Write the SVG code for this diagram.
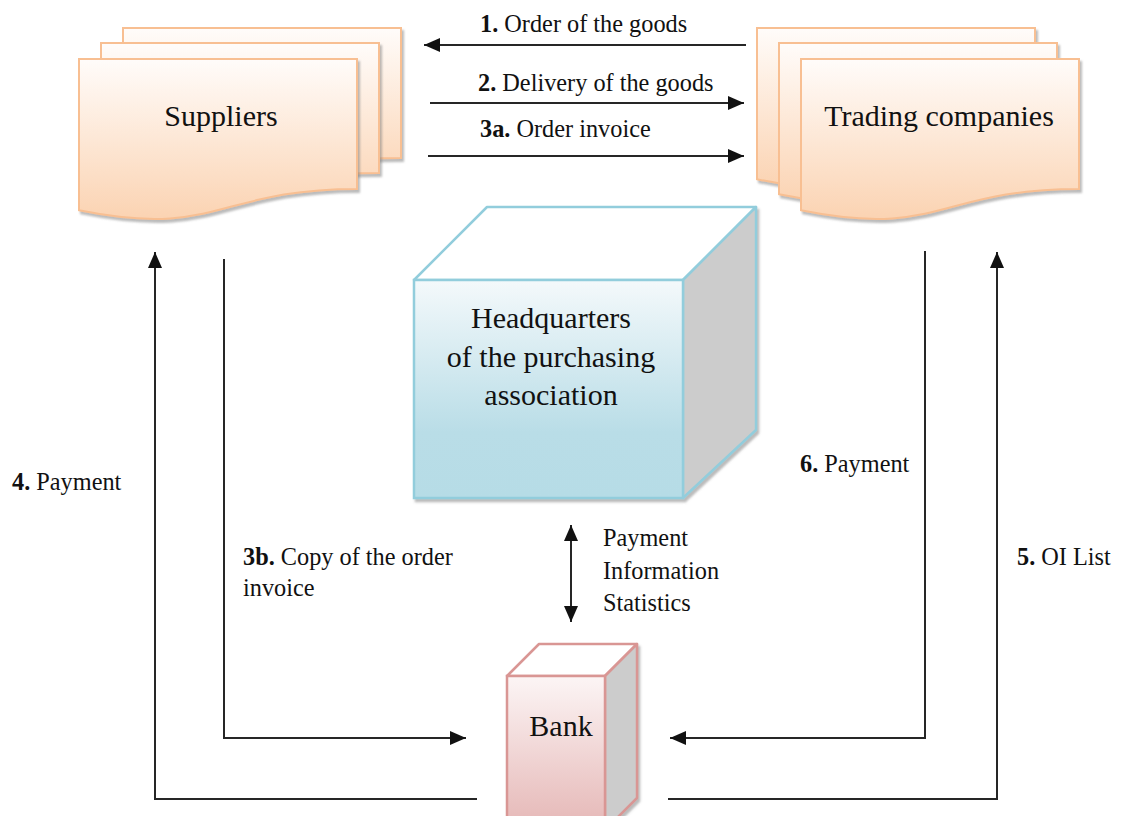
<svg xmlns="http://www.w3.org/2000/svg" width="1126" height="816" viewBox="0 0 1126 816">
<style>
.big{font-family:'Liberation Serif',serif;font-size:30px;fill:#111;}
.lbl{font-family:'Liberation Serif',serif;font-size:24.3px;fill:#111;}
.b{font-weight:bold;}
.doc{fill:url(#gDoc);stroke:#f8bf92;stroke-width:2;filter:url(#sh);}
.conn{fill:none;stroke:#262626;stroke-width:2;}
</style>
<defs>
<linearGradient id="gDoc" x1="0" y1="0" x2="0" y2="1">
<stop offset="0" stop-color="#fffcfa"/>
<stop offset="1" stop-color="#fbd3b2"/>
</linearGradient>
<linearGradient id="gHQ" x1="0" y1="0" x2="0" y2="1">
<stop offset="0" stop-color="#f4f9fb"/>
<stop offset="0.7" stop-color="#b9dde7"/>
<stop offset="1" stop-color="#b6dce6"/>
</linearGradient>
<linearGradient id="gBank" x1="0" y1="0" x2="0" y2="1">
<stop offset="0" stop-color="#fcf5f5"/>
<stop offset="1" stop-color="#e4b4b3"/>
</linearGradient>
<filter id="sh" x="-5%" y="-5%" width="115%" height="120%">
<feDropShadow dx="2" dy="3" stdDeviation="1" flood-color="#777" flood-opacity="0.5"/>
</filter>
<path id="docShape" d="M0,0 H278 V130 C139,130 139,179.4 0,151.3 Z"/>
<marker id="ah" markerUnits="userSpaceOnUse" markerWidth="16" markerHeight="14" refX="16" refY="7" orient="auto-start-reverse" viewBox="0 0 16 14">
<path d="M0,0 L16,7 L0,14 Z" fill="#111"/>
</marker>
</defs>
<rect width="1126" height="816" fill="#fff"/>

<g id="suppliers">
<use href="#docShape" class="doc" x="123" y="28"/>
<use href="#docShape" class="doc" x="101" y="43"/>
<use href="#docShape" class="doc" x="79" y="59"/>
<text class="big" x="221" y="126" text-anchor="middle">Suppliers</text>
</g>

<g id="trading">
<use href="#docShape" class="doc" x="757" y="28"/>
<use href="#docShape" class="doc" x="779" y="43"/>
<use href="#docShape" class="doc" x="801" y="59"/>
<text class="big" x="939" y="126" text-anchor="middle">Trading companies</text>
</g>

<g id="headquarters">
<g filter="url(#sh)">
<polygon points="414,280 487,207 756,207 683,280" fill="#ffffff" stroke="#92cddc" stroke-width="2.5" stroke-linejoin="round"/>
<polygon points="683,280 756,207 756,430 683,498" fill="#cccccc" stroke="#92cddc" stroke-width="2.5" stroke-linejoin="round"/>
<rect x="414" y="280" width="269" height="218" fill="url(#gHQ)" stroke="#92cddc" stroke-width="2.5"/>
</g>
<text class="big" x="551" y="328" text-anchor="middle">Headquarters</text>
<text class="big" x="551" y="367" text-anchor="middle">of the purchasing</text>
<text class="big" x="551" y="405" text-anchor="middle">association</text>
</g>

<g id="bank">
<g filter="url(#sh)">
<polygon points="507,676 539,644 637,644 605,676" fill="#ffffff" stroke="#d99694" stroke-width="2.5" stroke-linejoin="round"/>
<polygon points="605,676 637,644 637,798 605,830" fill="#cccccc" stroke="#d99694" stroke-width="2.5" stroke-linejoin="round"/>
<rect x="507" y="676" width="98" height="160" fill="url(#gBank)" stroke="#d99694" stroke-width="2.5"/>
</g>
<text class="big" x="561" y="736" text-anchor="middle">Bank</text>
</g>

<g id="connectors">
<line class="conn" x1="746" y1="45" x2="424" y2="45" marker-end="url(#ah)"/>
<line class="conn" x1="430" y1="103" x2="744" y2="103" marker-end="url(#ah)"/>
<line class="conn" x1="428" y1="156" x2="744" y2="156" marker-end="url(#ah)"/>
<path class="conn" d="M477,799 H155 V252" marker-end="url(#ah)"/>
<path class="conn" d="M224,259 V738 H466" marker-end="url(#ah)"/>
<path class="conn" d="M925,251 V738 H670" marker-end="url(#ah)"/>
<path class="conn" d="M668,799 H997 V252" marker-end="url(#ah)"/>
<line class="conn" x1="571" y1="525" x2="571" y2="622" marker-start="url(#ah)" marker-end="url(#ah)"/>
</g>

<g id="labels">
<text class="lbl" x="480" y="32"><tspan class="b">1.</tspan> Order of the goods</text>
<text class="lbl" x="478" y="91"><tspan class="b">2.</tspan> Delivery of the goods</text>
<text class="lbl" x="480" y="137"><tspan class="b">3a.</tspan> Order invoice</text>
<text class="lbl" x="12" y="490"><tspan class="b">4.</tspan> Payment</text>
<text class="lbl" x="243" y="565"><tspan class="b">3b.</tspan> Copy of the order</text>
<text class="lbl" x="243" y="596">invoice</text>
<text class="lbl" x="603" y="546">Payment</text>
<text class="lbl" x="603" y="579">Information</text>
<text class="lbl" x="603" y="611">Statistics</text>
<text class="lbl" x="800" y="472"><tspan class="b">6.</tspan> Payment</text>
<text class="lbl" x="1017" y="565"><tspan class="b">5.</tspan> OI List</text>
</g>
</svg>
